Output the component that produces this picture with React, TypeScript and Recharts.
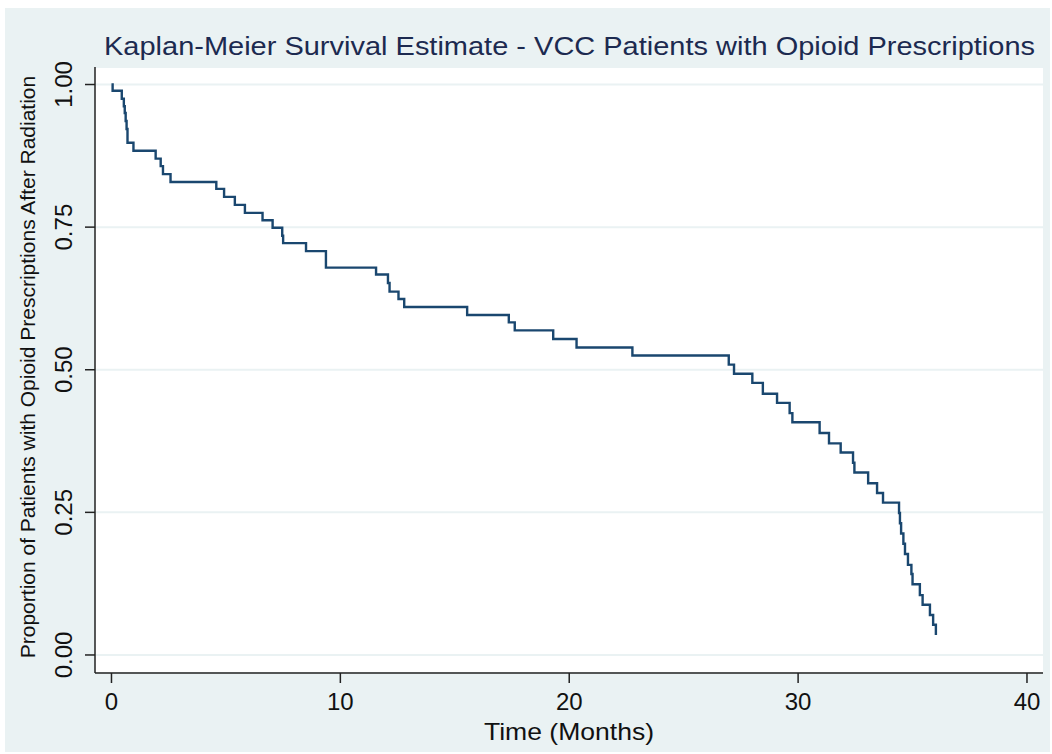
import { CartesianGrid, Line, LineChart, XAxis, YAxis } from "recharts";

// Kaplan-Meier step points: time in months, survival proportion
const timeMonths = [
  0, 0.05, 0.45, 0.54, 0.58, 0.62, 0.66, 0.7, 0.96, 1.93, 2.15, 2.25, 2.58, 4.58, 4.92, 5.39, 5.83, 6.6,
  7.04, 7.46, 7.5, 8.5, 9.37, 11.56, 12.08, 12.15, 12.54, 12.79, 15.54, 17.36, 17.62, 19.3, 20.32, 22.76,
  26.97, 27.2, 28.0, 28.46, 29.08, 29.63, 29.75, 30.94, 31.35, 31.86, 32.4, 32.46, 33.06, 33.45, 33.71,
  34.41, 34.45, 34.5, 34.6, 34.67, 34.8, 34.95, 35.0, 35.32, 35.44, 35.76, 35.9, 36.02
];
const survival = [
  1.0, 0.989, 0.975, 0.962, 0.95, 0.936, 0.922, 0.898, 0.884, 0.87, 0.857, 0.843, 0.829, 0.817, 0.803,
  0.789, 0.775, 0.762, 0.749, 0.735, 0.722, 0.708, 0.679, 0.667, 0.652, 0.637, 0.624, 0.61, 0.596, 0.583,
  0.569, 0.554, 0.539, 0.525, 0.509, 0.493, 0.477, 0.458, 0.442, 0.424, 0.408, 0.389, 0.371, 0.355, 0.337,
  0.32, 0.301, 0.284, 0.267, 0.249, 0.231, 0.213, 0.195, 0.177, 0.158, 0.142, 0.124, 0.105, 0.088, 0.07,
  0.053, 0.035
];
const xTicks = [0, 10, 20, 30, 40];
const yTicks = [0, 0.25, 0.5, 0.75, 1];

const title = "Kaplan-Meier Survival Estimate - VCC Patients with Opioid Prescriptions";
const xTitle = "Time (Months)";
const yTitle = "Proportion of Patients with Opioid Prescriptions After Radiation";

const data = timeMonths.map((t, i) => ({ t, s: survival[i] }));

const FONT = "'Liberation Sans', Arial, Helvetica, sans-serif";
const BG = "#eaf2f3";
const NAVY = "#1a476f";

function YTick({ y, payload }: any) {
  return (
    <text
      x={72}
      y={y}
      transform={`rotate(-90 72 ${y})`}
      textAnchor="middle"
      fontSize={24}
      fontFamily={FONT}
      fill="#111"
    >
      {Number(payload.value).toFixed(2)}
    </text>
  );
}

function XTick({ x, payload }: any) {
  return (
    <text x={x} y={710} textAnchor="middle" fontSize={24} fontFamily={FONT} fill="#111">
      {payload.value}
    </text>
  );
}

export default function App() {
  return (
    <div style={{ position: "absolute", left: 0, top: 0, width: 1052, height: 754, background: "#fff" }}>
      <div style={{ position: "absolute", left: 5, top: 8, width: 1045, height: 744, background: BG }} />
      <div style={{ position: "absolute", left: 0, top: 0 }}>
        <LineChart width={1052} height={754} data={data} margin={{ top: 67, right: 9, left: 0, bottom: 0 }}>
          <CartesianGrid vertical={false} fill="#ffffff" stroke={BG} strokeWidth={2} />
          <XAxis
            dataKey="t"
            type="number"
            domain={[-0.72, 40.7]}
            ticks={xTicks}
            allowDataOverflow
            height={81}
            tickSize={10}
            stroke="#222"
            strokeWidth={1.5}
            tick={<XTick />}
          />
          <YAxis
            type="number"
            domain={[-0.0316, 1.0307]}
            ticks={yTicks}
            allowDataOverflow
            width={95}
            tickSize={10}
            stroke="#222"
            strokeWidth={1.5}
            tick={<YTick />}
          />
          <Line
            type="stepAfter"
            dataKey="s"
            stroke={NAVY}
            strokeWidth={2.4}
            dot={false}
            activeDot={false}
            isAnimationActive={false}
          />
        </LineChart>
      </div>
      <svg
        width={1052}
        height={754}
        style={{ position: "absolute", left: 0, top: 0, pointerEvents: "none" }}
      >
        <text
          x={569.5}
          y={55}
          textAnchor="middle"
          fontSize={26}
          fontFamily={FONT}
          fill="#1c2a50"
          textLength={931}
          lengthAdjust="spacingAndGlyphs"
        >
          {title}
        </text>
        <text
          x={569}
          y={740}
          textAnchor="middle"
          fontSize={24.5}
          fontFamily={FONT}
          fill="#111"
          textLength={170}
          lengthAdjust="spacingAndGlyphs"
        >
          {xTitle}
        </text>
        <text
          x={35}
          y={367}
          transform="rotate(-90 35 367)"
          textAnchor="middle"
          fontSize={21}
          fontFamily={FONT}
          fill="#111"
        >
          {yTitle}
        </text>
      </svg>
    </div>
  );
}
